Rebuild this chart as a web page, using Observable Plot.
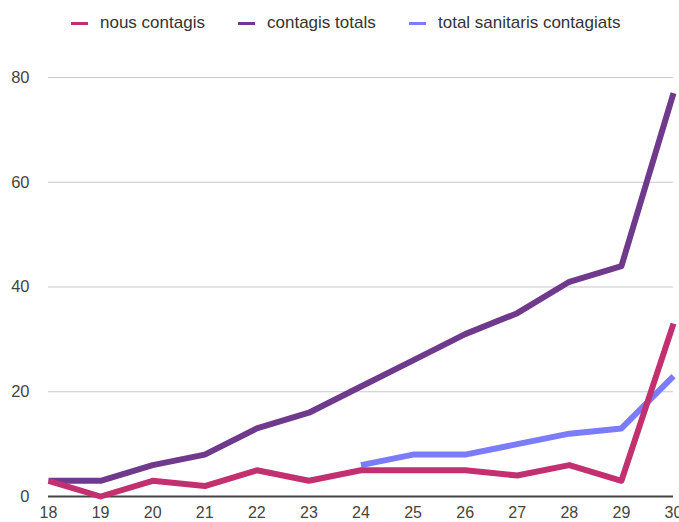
<!DOCTYPE html>
<html>
<head>
<meta charset="utf-8">
<script src="https://cdn.jsdelivr.net/npm/d3@7"></script>
<script src="https://cdn.jsdelivr.net/npm/@observablehq/plot@0.6"></script>
<style>
  html, body { margin: 0; padding: 0; background: #fff; overflow: hidden; }
  body { width: 679px; height: 522px; font-family: "Liberation Sans", Arial, Helvetica, sans-serif; }
  #legend { height: 45px; position: relative; }
  .item { position: absolute; top: 13px; display: flex; align-items: center; font-size: 17px; color: #333; white-space: nowrap; }
  .sw { width: 17px; height: 3px; margin-right: 12px; }
  #chart svg { display: block; overflow: visible; }
</style>
</head>
<body>
<div id="legend"></div>
<div id="chart"></div>
<script>
const days = [18, 19, 20, 21, 22, 23, 24, 25, 26, 27, 28, 29, 30];
const nousContagis = [3, 0, 3, 2, 5, 3, 5, 5, 5, 4, 6, 3, 33];
const contagisTotals = [3, 3, 6, 8, 13, 16, 21, 26, 31, 35, 41, 44, 77];
const sanitarisDays = [24, 25, 26, 27, 28, 29, 30];
const sanitarisContagiats = [6, 8, 8, 10, 12, 13, 23];
const seriesNames = ["nous contagis", "contagis totals", "total sanitaris contagiats"];
const seriesColors = ["#c2306f", "#6f3a8c", "#7b7cfc"];
const yTicks = [0, 20, 40, 60, 80];

const legendLeft = [71, 238, 409];
const legend = document.getElementById("legend");
seriesNames.forEach((n, i) => {
  const d = document.createElement("div");
  d.className = "item";
  d.style.left = legendLeft[i] + "px";
  d.innerHTML = `<span class="sw" style="background:${seriesColors[i]}"></span><span>${n}</span>`;
  legend.appendChild(d);
});

const data = [
  ...sanitarisDays.map((d, i) => ({day: d, value: sanitarisContagiats[i], series: seriesNames[2]})),
  ...days.map((d, i) => ({day: d, value: contagisTotals[i], series: seriesNames[1]})),
  ...days.map((d, i) => ({day: d, value: nousContagis[i], series: seriesNames[0]}))
];

const chart = Plot.plot({
  width: 679,
  height: 477,
  marginLeft: 48,
  marginRight: 6,
  marginTop: 32,
  marginBottom: 26,
  style: {fontFamily: "'Liberation Sans', Arial, Helvetica, sans-serif", fontSize: "16.5px", color: "#444", background: "#fff", overflow: "visible"},
  x: {domain: [18, 30], ticks: days, tickFormat: d => String(d)},
  y: {domain: [0, 80], ticks: yTicks},
  color: {domain: seriesNames, range: seriesColors},
  marks: [
    Plot.ruleY(yTicks.filter(t => t > 0), {stroke: "#c8c8c8", strokeWidth: 1.2}),
    Plot.axisY({ticks: yTicks, tickSize: 0, tickPadding: 19, label: null, fill: "#444"}),
    Plot.axisX({ticks: days, tickSize: 0, tickPadding: 10, label: null, fill: "#444", fontSize: 16, tickFormat: d => String(d)}),
    Plot.ruleY([0], {stroke: "#444", strokeWidth: 2}),
    Plot.line(data, {x: "day", y: "value", z: "series", stroke: "series", strokeWidth: 6, strokeLinejoin: "round", strokeLinecap: "butt"})
  ]
});
document.getElementById("chart").appendChild(chart);
</script>
</body>
</html>
